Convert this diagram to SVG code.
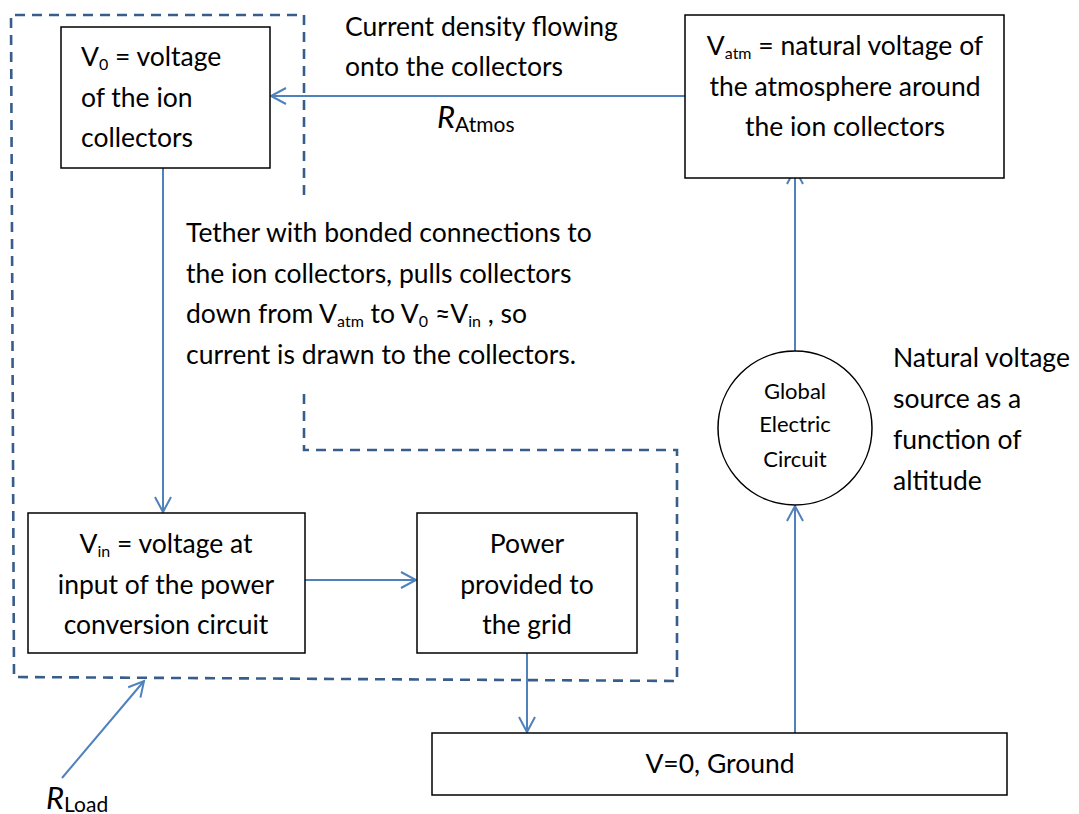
<svg xmlns="http://www.w3.org/2000/svg" width="1079" height="814" viewBox="0 0 1079 814">
<style>
  text { font-family: Lato, "Open Sans", "Liberation Sans", sans-serif; fill: #000; }
  .t { font-size: 26.5px; }
  .c { font-size: 22px; }
  .sub { font-size: 16px; }
  .box { fill: #fff; stroke: #000; stroke-width: 1.5; }
  .conn { fill: none; stroke: #4f81bd; stroke-width: 2; }
  .dash { fill: none; stroke: #385d8a; stroke-width: 2.6; stroke-dasharray: 10 7; }
  .mid { text-anchor: middle; }
</style>
<defs>
  <marker id="arr" markerUnits="userSpaceOnUse" markerWidth="20" markerHeight="20" refX="16" refY="9" orient="auto">
    <path d="M1,1 L16,9 L1,17" fill="none" stroke="#4f81bd" stroke-width="2"/>
  </marker>
</defs>
<rect width="1079" height="814" fill="#fff"/>

<g id="boundary">
  <polyline class="dash" points="304,195 304,15 11,15 14,677 677,681 677,450 304,450 304,390"/>
</g>

<g id="connectors">
  <line class="conn" x1="685" y1="96" x2="271" y2="96" marker-end="url(#arr)"/>
  <line class="conn" x1="163" y1="168" x2="163" y2="512" marker-end="url(#arr)"/>
  <line class="conn" x1="305" y1="580" x2="416" y2="580" marker-end="url(#arr)"/>
  <line class="conn" x1="527" y1="653" x2="527" y2="732" marker-end="url(#arr)"/>
  <line class="conn" x1="795" y1="733" x2="795" y2="506" marker-end="url(#arr)"/>
  <line class="conn" x1="795" y1="351" x2="795" y2="169" marker-end="url(#arr)"/>
  <line class="conn" x1="62" y1="778" x2="144" y2="681" marker-end="url(#arr)"/>
</g>

<g id="v0">
  <rect class="box" x="61" y="27" width="209" height="141"/>
  <text class="t" x="81" y="66">V<tspan class="sub" dy="4">0</tspan><tspan dy="-4"> = voltage</tspan></text>
  <text class="t" x="81" y="107">of the ion</text>
  <text class="t" x="81" y="147">collectors</text>
</g>

<g id="vatm">
  <rect class="box" x="685" y="15" width="319" height="163"/>
  <text class="t mid" x="845" y="55">V<tspan class="sub" dy="4">atm</tspan><tspan dy="-4"> = natural voltage of</tspan></text>
  <text class="t mid" x="845" y="96">the atmosphere around</text>
  <text class="t mid" x="845" y="136">the ion collectors</text>
</g>

<g id="current-label">
  <text class="t" x="345" y="36">Current density flowing</text>
  <text class="t" x="345" y="76">onto the collectors</text>
</g>

<g id="ratmos">
  <text x="437" y="128" font-size="31" font-style="italic">R<tspan font-size="21" font-style="normal" dy="4">Atmos</tspan></text>
</g>

<g id="tether-label">
  <text class="t" x="186" y="242">Tether with bonded connections to</text>
  <text class="t" x="186" y="283">the ion collectors, pulls collectors</text>
  <text class="t" x="186" y="323">down from V<tspan class="sub" dy="4">atm</tspan><tspan dy="-4"> to V</tspan><tspan class="sub" dy="4">0</tspan><tspan dy="-4"> ≈V</tspan><tspan class="sub" dy="4">in</tspan><tspan dy="-4"> , so</tspan></text>
  <text class="t" x="186" y="364">current is drawn to the collectors.</text>
</g>

<g id="vin">
  <rect class="box" x="28" y="513" width="277" height="140"/>
  <text class="t mid" x="166" y="553">V<tspan class="sub" dy="4">in</tspan><tspan dy="-4"> = voltage at</tspan></text>
  <text class="t mid" x="166" y="594">input of the power</text>
  <text class="t mid" x="166" y="634">conversion circuit</text>
</g>

<g id="power">
  <rect class="box" x="417" y="513" width="220" height="140"/>
  <text class="t mid" x="527" y="553">Power</text>
  <text class="t mid" x="527" y="594">provided to</text>
  <text class="t mid" x="527" y="634">the grid</text>
</g>

<g id="gec">
  <circle cx="795" cy="428" r="77" fill="#fff" stroke="#000" stroke-width="1.5"/>
  <text class="c mid" x="795" y="399">Global</text>
  <text class="c mid" x="795" y="432">Electric</text>
  <text class="c mid" x="795" y="467">Circuit</text>
</g>

<g id="natural-label">
  <text class="t" x="893" y="367">Natural voltage</text>
  <text class="t" x="893" y="408">source as a</text>
  <text class="t" x="893" y="449">function of</text>
  <text class="t" x="893" y="490">altitude</text>
</g>

<g id="ground">
  <rect class="box" x="432" y="733" width="575" height="62"/>
  <text class="t mid" x="720" y="773">V=0, Ground</text>
</g>

<g id="rload">
  <text x="46" y="809" font-size="31" font-style="italic">R<tspan font-size="21" font-style="normal" dy="3">Load</tspan></text>
</g>
</svg>
